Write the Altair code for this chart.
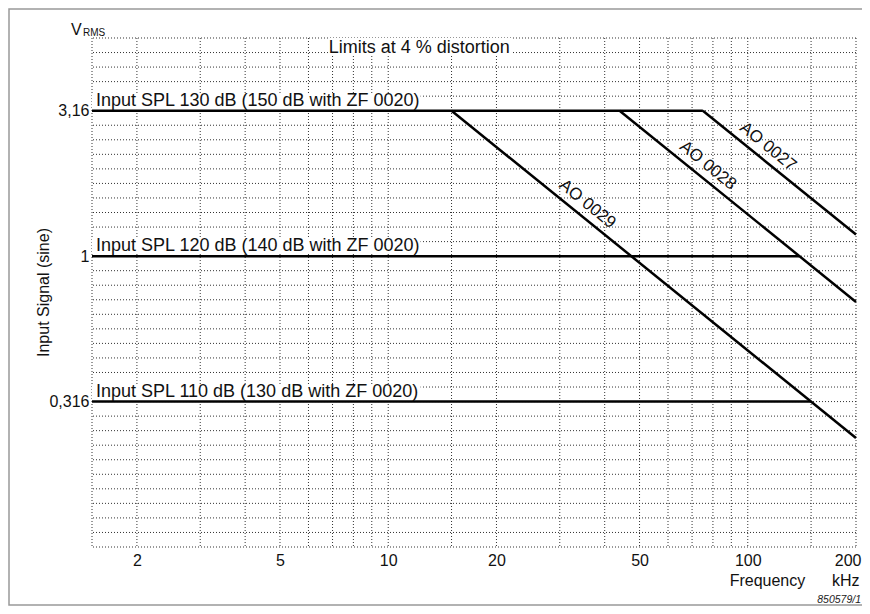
import altair as alt
import pandas as pd

FONT = "Liberation Sans"

# ---- axis ticks / grid ----
x_tick_values = [2, 5, 10, 20, 50, 100, 200]
y_tick_values = [0.3162, 1.0, 3.162]
x_grid = [1.5, 2, 3, 4, 5, 6, 7, 8, 9, 10, 15, 20, 30, 40, 50, 60, 70, 80, 90, 100, 150, 200]
y_grid_db = list(range(-20, 16))  # 1 dB steps re 1 V

# ---- input level lines ----
level_names = ["Input SPL 130 dB (150 dB with ZF 0020)",
               "Input SPL 120 dB (140 dB with ZF 0020)",
               "Input SPL 110 dB (130 dB with ZF 0020)"]
level_values = [3.162, 1.0, 0.3162]
level_start = [1.5, 1.5, 1.5]
level_end = [75, 139, 150]
level_label_end = [12.3, 12.3, 12.3]

# ---- microphone limit lines ----
mic_names = ["AO 0029", "AO 0028", "AO 0027"]
mic_f_start = [15, 44, 75]
mic_v_start = [3.162, 3.162, 3.162]
mic_f_end = [200, 200, 200]
mic_v_end = [0.237, 0.696, 1.186]
mic_label_f = [34, 73.5, 108]
mic_label_v = [1.395, 1.893, 2.196]

# ---- heading ----
heading = "Limits at 4 % distortion"
heading_f, heading_v = 12.2, 5.01
heading_box_f = [6.8, 22.0]
heading_box_v = [4.95, 5.623]

X_DOMAIN = [1.5, 200]
Y_DOMAIN = [0.1, 5.623]
W, H = 764, 509
FS = 18

xs = alt.Scale(type="log", domain=X_DOMAIN, nice=False)
ys = alt.Scale(type="log", domain=Y_DOMAIN, nice=False)

AX = alt.Axis(
    values=x_tick_values, grid=False, ticks=False, domain=False,
    labelFont=FONT, labelFontSize=16, labelColor="#111", labelPadding=5,
    labelBaseline="top", labelFlush=True, labelFlushOffset=5, labelOverlap=False,
    title="Frequency\u00a0\u00a0\u00a0\u00a0\u00a0\u00a0kHz", titleFont=FONT, titleFontSize=16,
    titleFontWeight="normal", titleColor="#111", titleX=767, titleY=38,
    titleAlign="right", titleBaseline="alphabetic", labelExpr="datum.value")
AY = alt.Axis(
    values=y_tick_values, grid=False, ticks=False, domain=False,
    labelFont=FONT, labelFontSize=16, labelColor="#111", labelPadding=3,
    labelExpr="datum.value < 0.5 ? '0,316' : (datum.value < 2 ? '1' : '3,16')",
    title="Input Signal (sine)", titleFont=FONT, titleFontSize=16,
    titleFontWeight="normal", titleColor="#111", titleX=-49, titleY=254,
    titleAngle=270, titleAlign="center", titleBaseline="middle")


def X(field):
    return alt.X(field, type="quantitative", scale=xs, axis=AX)


def Y(field):
    return alt.Y(field, type="quantitative", scale=ys, axis=AY)


# grid
vgrid = alt.Chart(pd.DataFrame({"f": x_grid})).mark_rule(
    color="#333", strokeWidth=1, strokeDash=[1, 2]
).encode(x=X("f"))

hgrid = alt.Chart(pd.DataFrame({"db": y_grid_db})).transform_calculate(
    v="pow(10, datum.db / 20)"
).mark_rule(color="#333", strokeWidth=1, strokeDash=[1, 2]).encode(y=Y("v"))

# white boxes behind level labels
lev = pd.DataFrame({"name": level_names, "v": level_values, "f0": level_start,
                    "f1": level_end, "fl": level_label_end})
lev_box = alt.Chart(lev).transform_calculate(
    vb="datum.v * 1.02", vt="datum.v * 1.15"
).mark_rect(color="white").encode(x=X("f0"), x2="fl:Q", y=Y("vb"), y2="vt:Q")

head_df = pd.DataFrame({"f0": [heading_box_f[0]], "f1": [heading_box_f[1]],
                        "v0": [heading_box_v[0]], "v1": [heading_box_v[1]],
                        "f": [heading_f], "v": [heading_v], "t": [heading]})
head_box = alt.Chart(head_df).mark_rect(color="white").encode(
    x=X("f0"), x2="f1:Q", y=Y("v0"), y2="v1:Q")
head_txt = alt.Chart(head_df).mark_text(
    font=FONT, fontSize=FS, color="#111", align="center", baseline="alphabetic"
).encode(x=X("f"), y=Y("v"), text="t:N")

lev_lines = alt.Chart(lev).mark_rule(color="black", strokeWidth=2.5).encode(
    x=X("f0"), x2="f1:Q", y=Y("v"))
lev_txt = alt.Chart(lev).mark_text(
    font=FONT, fontSize=FS, color="#111", align="left",
    baseline="alphabetic", dx=4, dy=-5
).encode(x=X("f0"), y=Y("v"), text="name:N")

mic = pd.DataFrame({"name": mic_names, "f0": mic_f_start, "v0": mic_v_start,
                    "f1": mic_f_end, "v1": mic_v_end, "lf": mic_label_f, "lv": mic_label_v})
mic_lines = alt.Chart(mic).mark_rule(color="black", strokeWidth=2.5).encode(
    x=X("f0"), x2="f1:Q", y=Y("v0"), y2="v1:Q")
mic_txt = alt.Chart(mic).mark_text(
    font=FONT, fontSize=17, color="#111", align="center",
    baseline="middle", angle=39, dy=-13
).encode(x=X("lf"), y=Y("lv"), text="name:N")

one = pd.DataFrame({"a": [0]})
frame = alt.Chart(one).mark_rect(fill=None, stroke="#999", strokeWidth=1.5).encode(
    x=alt.value(-83), x2=alt.value(800), y=alt.value(-29), y2=alt.value(567))
v_txt = alt.Chart(one).mark_text(font=FONT, fontSize=16, color="#111", align="left",
                                 baseline="alphabetic").encode(
    x=alt.value(-21), y=alt.value(-3), text=alt.value("V"))
rms_txt = alt.Chart(one).mark_text(font=FONT, fontSize=10, color="#111", align="left",
                                   baseline="alphabetic").encode(
    x=alt.value(-9), y=alt.value(-2), text=alt.value("RMS"))
code_txt = alt.Chart(one).mark_text(font=FONT, fontSize=10.5, fontStyle="italic", color="#222",
                                    align="right", baseline="alphabetic").encode(
    x=alt.value(769), y=alt.value(565), text=alt.value("850579/1"))

chart = alt.layer(
    vgrid, hgrid, frame, lev_box, head_box, lev_lines, mic_lines,
    lev_txt, head_txt, mic_txt, v_txt, rms_txt, code_txt
).properties(
    width=W, height=H,
    autosize=alt.AutoSizeParams(type="none"),
    padding={"left": 84, "top": 30, "right": 6, "bottom": 59},
    background="white"
).configure_view(stroke=None)

chart.save("out.html", embed_options={"renderer": "svg", "actions": False})
